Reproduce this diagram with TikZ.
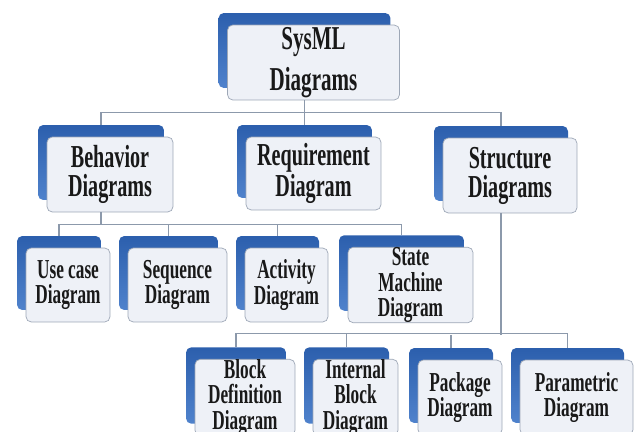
\documentclass[tikz,border=0pt]{standalone}
\usepackage{fontspec}
\setmainfont{Liberation Serif}[FakeStretch=0.63]
\usetikzlibrary{shadows}

\definecolor{backblue}{HTML}{2C5FAD}
\definecolor{lightblue}{HTML}{4F82CC}
\definecolor{boxfill}{HTML}{EEF1F7}
\definecolor{boxline}{HTML}{9DA7B6}
\definecolor{linkgray}{HTML}{8C99AB}

\def\sx{-0.18cm}
\def\sy{0.24cm}

\tikzset{
  diag/.style={draw=boxline, fill=boxfill, rounded corners=3pt, align=center,
    inner sep=0pt, text=black!90,
    general shadow={shadow xshift=\sx, shadow yshift=\sy, draw=none,
      top color=backblue, bottom color=lightblue}},
  rootbox/.style={diag, font=\bfseries\fontsize{19}{23}\selectfont},
  groupbox/.style={diag, minimum height=1.5cm, font=\bfseries\fontsize{18.2}{16.5}\selectfont},
  leafbox/.style={diag, minimum height=1.48cm, font=\bfseries\fontsize{15.6}{14.6}\selectfont},
  link/.style={draw=linkgray, line width=0.6pt}
}

\begin{document}
\begin{tikzpicture}[x=0.02cm, y=-0.02cm]
  \useasboundingbox (0,0) rectangle (638,432);

  \node[rootbox, minimum width=3.44cm, minimum height=1.5cm] (sysml) at (313.5,62.5) {SysML\\Diagrams};

  \node[groupbox, minimum width=2.52cm] (behavior) at (110,174.5) {Behavior\\Diagrams};
  \node[groupbox, minimum width=2.7cm, minimum height=1.46cm] (requirement) at (313.5,173.5) {Requirement\\Diagram};
  \node[groupbox, minimum width=2.68cm] (structure) at (510,175.5) {Structure\\Diagrams};

  \node[leafbox, minimum width=1.68cm] (usecase) at (68,285) {Use case\\Diagram};
  \node[leafbox, minimum width=1.98cm] (sequence) at (177.5,285) {Sequence\\Diagram};
  \node[leafbox, minimum width=1.66cm] (activity) at (286.5,285) {Activity\\Diagram};
  \node[leafbox, minimum width=2.5cm] (statemachine) at (410.5,285) {State\\Machine\\Diagram};

  \node[leafbox, minimum width=2.0cm, minimum height=1.5cm] (blockdef) at (245,397.5) {Block\\Definition\\Diagram};
  \node[leafbox, minimum width=1.7cm, minimum height=1.5cm] (internal) at (355.5,397.5) {Internal\\Block\\Diagram};
  \node[leafbox, minimum width=1.68cm, minimum height=1.5cm] (package) at (460,397.5) {Package\\Diagram};
  \node[leafbox, minimum width=2.26cm, minimum height=1.5cm] (parametric) at (576.5,397.5) {Parametric\\Diagram};

  % top level
  \draw[link] ([xshift=\sx]sysml.south) -- ([xshift=\sx,yshift=\sy]requirement.north);
  \draw[link] ([xshift=\sx,yshift=\sy]behavior.north) -- ++(0,-12) -| ([xshift=\sx,yshift=\sy]structure.north);

  % behavior
  \draw[link] ([xshift=\sx]behavior.south) -- ++(0,13);
  \draw[link] ([xshift=\sx,yshift=\sy]usecase.north) -- ++(0,-11) -| ([xshift=\sx,yshift=\sy]statemachine.north);
  \draw[link] ([xshift=\sx,yshift=\sy]sequence.north) -- ++(0,-11);
  \draw[link] ([xshift=\sx,yshift=\sy]activity.north) -- ++(0,-11);

  % structure
  \draw[link] ([xshift=\sx]structure.south) -- ++(0,122);
  \draw[link] ([xshift=\sx,yshift=\sy]blockdef.north) -- ++(0,-13) -| ([xshift=\sx,yshift=\sy]parametric.north);
  \draw[link] ([xshift=\sx,yshift=\sy]internal.north) -- ++(0,-13);
  \draw[link] ([xshift=\sx,yshift=\sy]package.north) -- ++(0,-13);
\end{tikzpicture}
\end{document}
